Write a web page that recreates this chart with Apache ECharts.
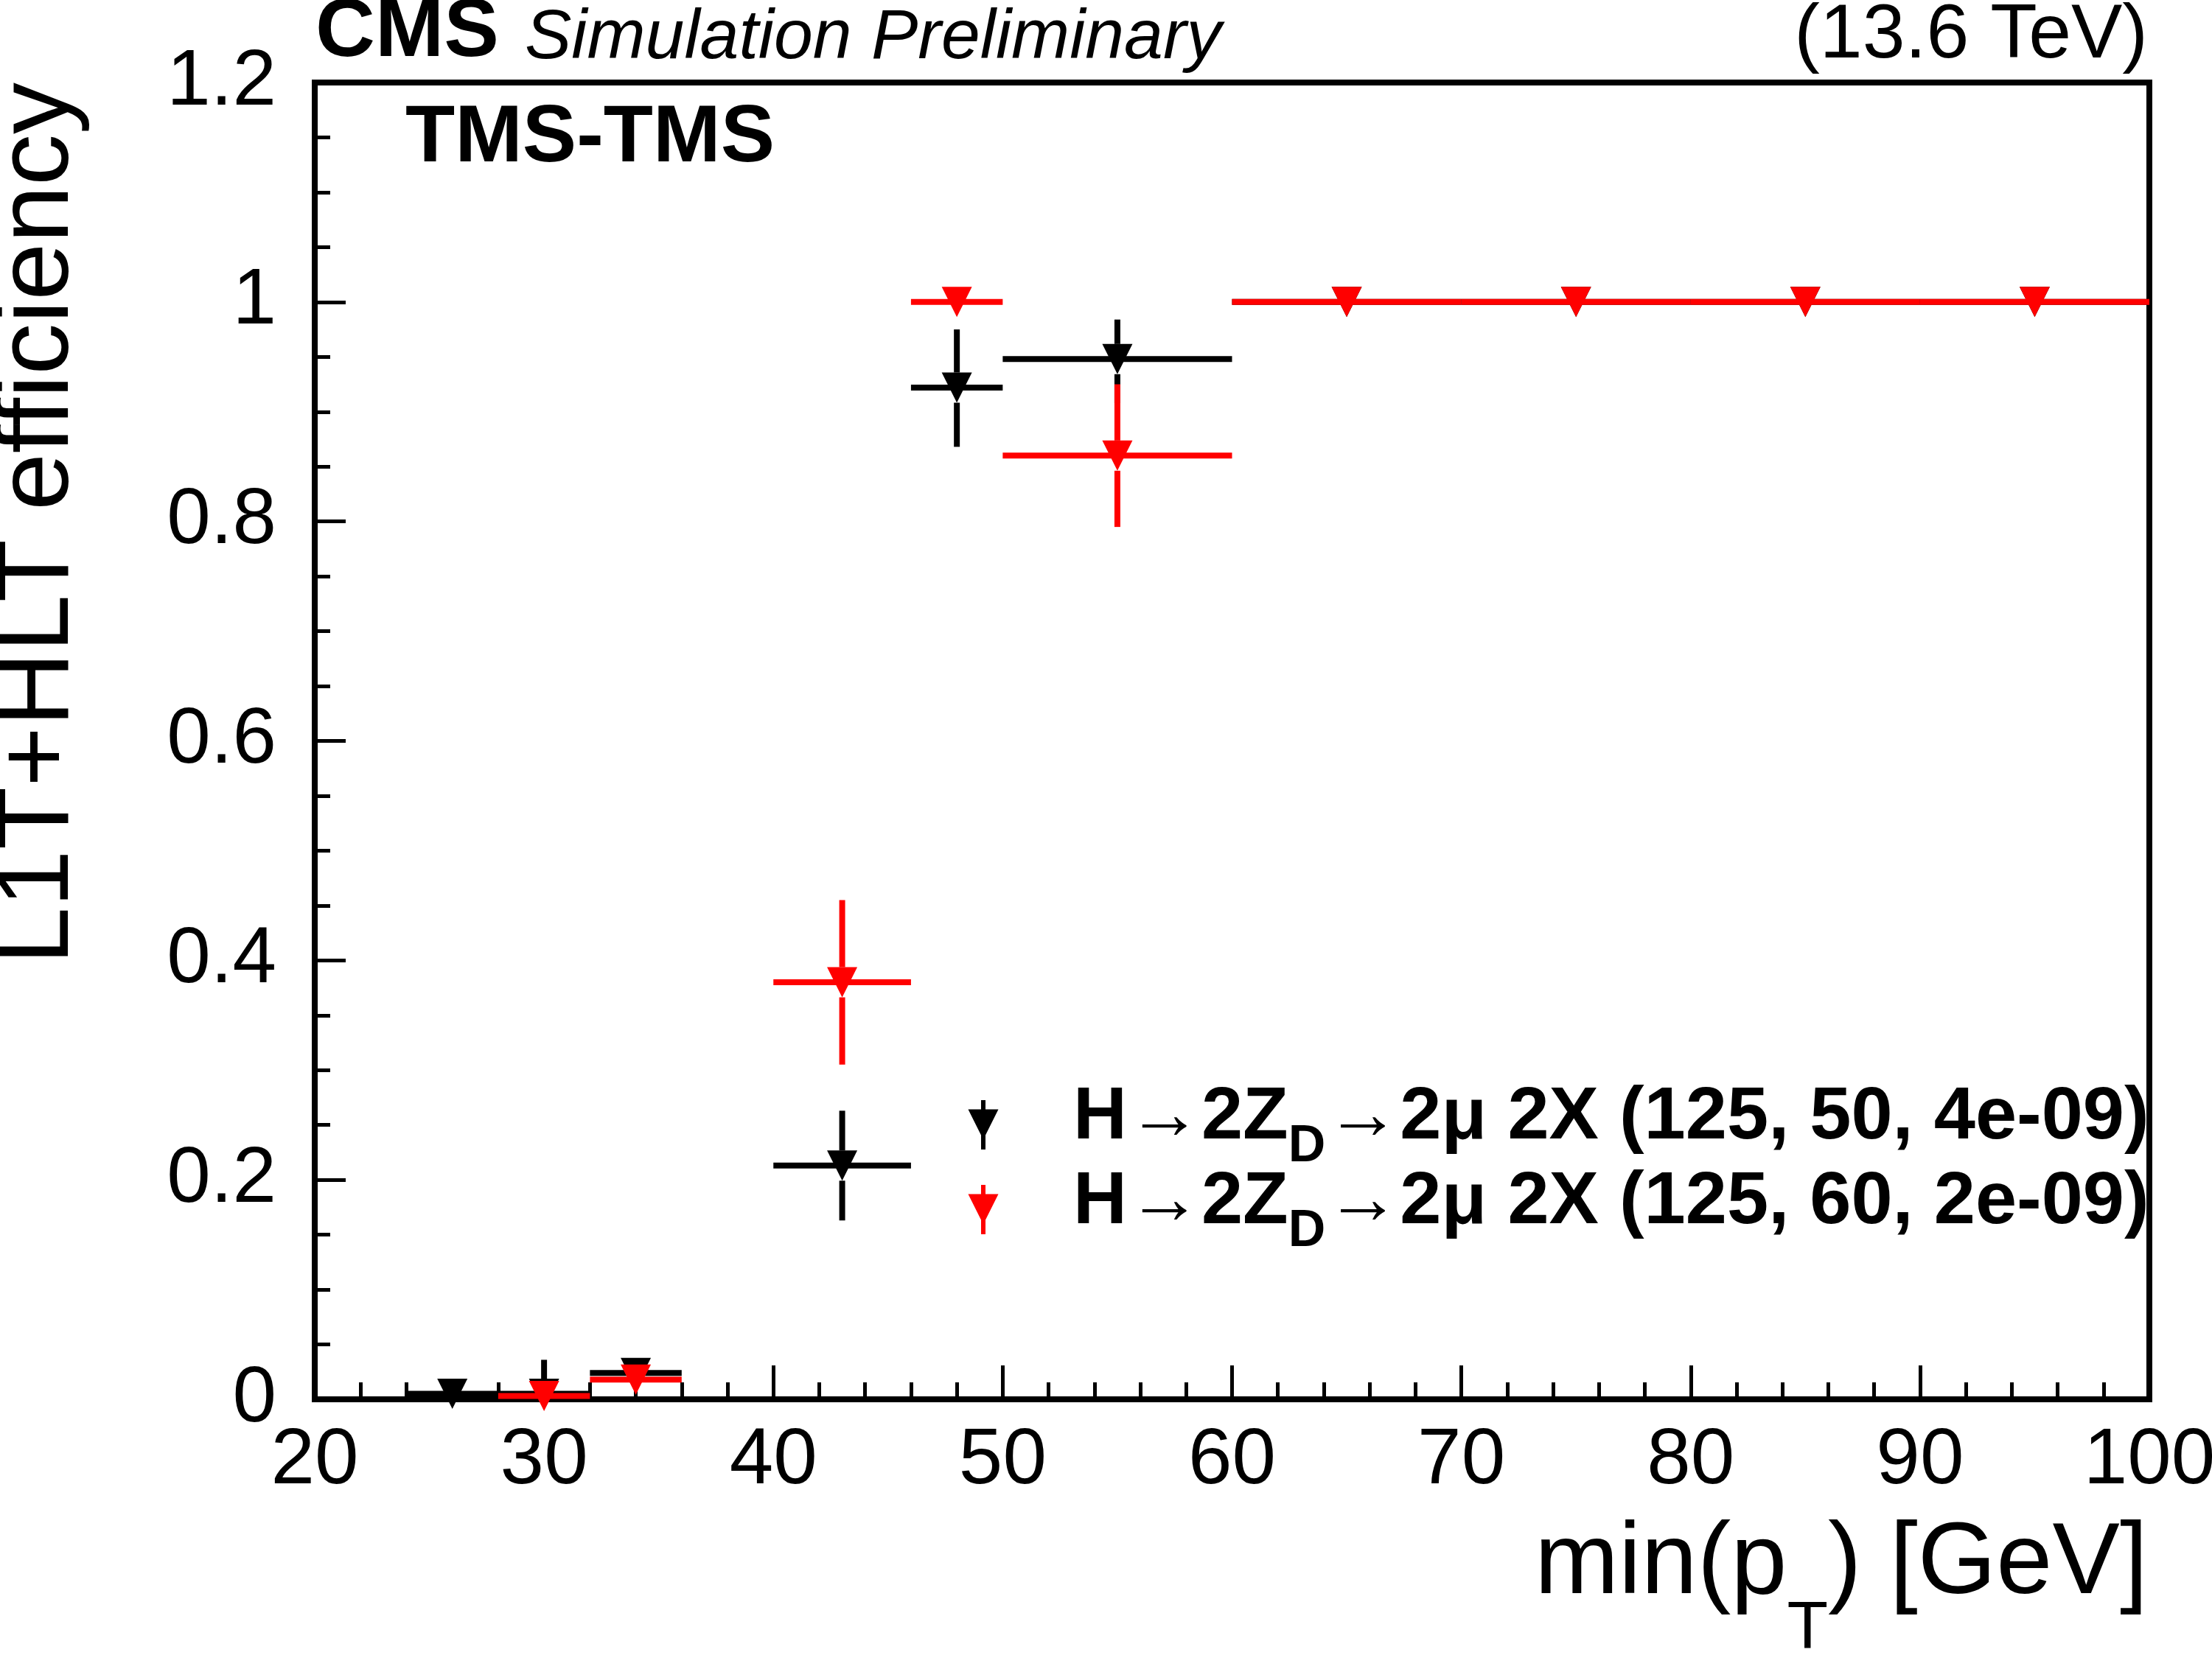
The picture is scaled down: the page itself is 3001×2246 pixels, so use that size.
<!DOCTYPE html>
<html><head><meta charset="utf-8">
<script src="https://cdn.jsdelivr.net/npm/echarts@6/dist/echarts.min.js"></script>
<style>html,body{margin:0;padding:0;background:#fff}#c{width:3001px;height:2246px}</style>
</head><body><div id="c"></div>
<script>
// ---- data ----
const binLow    = [24, 28, 32, 40, 46, 50, 60, 70, 80, 90];
const binHigh   = [28, 32, 36, 46, 50, 60, 70, 80, 90, 100];
const binCenter = [26, 30, 34, 43, 48, 55, 65, 75, 85, 95];

const effA   = [0.005, 0.005, 0.024, 0.213, 0.922, 0.948, 1, 1, 1, 1];
const errUpA = [0.006, 0.031, 0.008, 0.050, 0.053, 0.036, 0, 0, 0, 0];
const errDnA = [0.005, 0.005, 0.008, 0.050, 0.054, 0.040, 0, 0, 0, 0];

const effB   = [null, 0.003, 0.018, 0.380, 1.000, 0.860, 1, 1, 1, 1];
const errUpB = [null, 0.012, 0.008, 0.075, 0.000, 0.065, 0, 0, 0, 0];
const errDnB = [null, 0.003, 0.008, 0.075, 0.000, 0.065, 0, 0, 0, 0];

const seriesColors = ['#000000', '#ff0000'];
const legendParts = [
  ['H\u21922Z', 'D', '\u21922\u03bc 2X (125, 50, 4e-09)'],
  ['H\u21922Z', 'D', '\u21922\u03bc 2X (125, 60, 2e-09)']
];
const xRange = [20, 100, 10];
const yRange = [0, 1.2, 0.2];
const xTitle = ['min(p', 'T', ') [GeV]'];
const yTitle = 'L1T+HLT efficiency';

// ---- build ----
const FONT = '"Liberation Sans", Arial, Helvetica, sans-serif';
const MARK = 41, LW = 8;
function build(eff, up, dn) {
  const out = [];
  for (let i = 0; i < eff.length; i++) {
    if (eff[i] === null) continue;
    out.push([binCenter[i], eff[i], binLow[i], binHigh[i], eff[i] - dn[i], eff[i] + up[i]]);
  }
  return out;
}
function renderItem(color) {
  return function (params, api) {
    const x = api.value(0), y = api.value(1);
    const p = api.coord([x, y]);
    const pl = api.coord([api.value(2), y]);
    const ph = api.coord([api.value(3), y]);
    const plo = api.coord([x, api.value(4)]);
    const phi = api.coord([x, api.value(5)]);
    const h = MARK / 2;
    const st = {stroke: color, lineWidth: LW, lineCap: 'butt'};
    const ch = [];
    ch.push({type: 'line', shape: {x1: pl[0], y1: p[1], x2: ph[0], y2: p[1]}, style: st});
    if (phi[1] < p[1] - h) ch.push({type: 'line', shape: {x1: p[0], y1: phi[1], x2: p[0], y2: p[1] - h}, style: st});
    if (plo[1] > p[1] + h) ch.push({type: 'line', shape: {x1: p[0], y1: p[1] + h, x2: p[0], y2: plo[1]}, style: st});
    ch.push({type: 'polygon', shape: {points: [[p[0] - h, p[1] - h], [p[0] + h, p[1] - h], [p[0], p[1] + h]]}, style: {fill: color}});
    return {type: 'group', children: ch};
  };
}

const ctx = document.createElement('canvas').getContext('2d');
function tw(text, font) { ctx.font = font; return ctx.measureText(text).width; }

const graphics = [];
function txt(x, y, text, size, opts) {
  opts = opts || {};
  graphics.push({
    type: 'text', x: x, y: y, rotation: opts.rotation || 0, z: 100,
    style: {text: text, fill: opts.color || '#000', fontSize: size, fontFamily: FONT,
      fontWeight: opts.weight || 'normal', fontStyle: opts.style || 'normal',
      align: opts.align || 'left', verticalAlign: 'middle',
      textAlign: opts.align || 'left', textVerticalAlign: 'middle'}
  });
}
// header
txt(428, 84 - 0.35 * 112, 'CMS', 112, {weight: 'bold'});
txt(712, 86 - 0.35 * 95, 'Simulation Preliminary', 95, {style: 'italic'});
txt(2914, 86 - 0.35 * 104, '(13.6 TeV)', 104, {align: 'right'});
txt(550, 227 - 0.35 * 110, 'TMS-TMS', 110, {weight: 'bold'});
// y title
txt(53, 112, yTitle, 140, {align: 'right', rotation: Math.PI / 2});
// x title
(function () {
  const f1 = '137px ' + FONT, f2 = '91px ' + FONT;
  const w3 = tw(xTitle[2], f1), w2 = tw(xTitle[1], f2);
  txt(2914, 2172 - 0.35 * 137, xTitle[2], 137, {align: 'right'});
  txt(2914 - w3, 2212, xTitle[1], 91, {align: 'right'});
  txt(2914 - w3 - w2, 2172 - 0.35 * 137, xTitle[0], 137, {align: 'right'});
})();
// legend
const legBase = [1553, 1668];
legendParts.forEach(function (parts, k) {
  const base = legBase[k];
  const cy = base - 27;
  const cx = 1334, h = MARK / 2;
  graphics.push({type: 'line', z: 100, shape: {x1: cx, y1: cy - 33, x2: cx, y2: cy + 34}, style: {stroke: seriesColors[k], lineWidth: 6}});
  graphics.push({type: 'polygon', z: 101, shape: {points: [[cx - h, cy - h], [cx + h, cy - h], [cx, cy + h]]}, style: {fill: seriesColors[k]}});
  const fMain = 'bold 101px ' + FONT, fSub = 'bold 70px ' + FONT;
  let x = 1456;
  txt(x, base - 0.35 * 101, parts[0], 101, {weight: 'bold'});
  x += tw(parts[0], fMain);
  txt(x, base + 4, parts[1], 70, {weight: 'bold'});
  x += tw(parts[1], fSub);
  txt(x, base - 0.35 * 101, parts[2], 101, {weight: 'bold'});
});

const tickStyle = {color: '#000', width: 5};
const option = {
  animation: false,
  backgroundColor: '#fff',
  grid: {left: 427, right: 85, top: 112, bottom: 347, outerBoundsMode: 'none', containLabel: false,
         show: true, borderColor: '#000', borderWidth: 8, backgroundColor: 'transparent'},
  xAxis: {
    type: 'value', min: xRange[0], max: xRange[1], interval: xRange[2],
    axisLine: {show: true, onZero: false, lineStyle: {color: '#000', width: 8}},
    axisTick: {show: true, inside: true, length: 46, lineStyle: tickStyle},
    minorTick: {show: true, splitNumber: 5, length: 23, lineStyle: tickStyle},
    splitLine: {show: false}, minorSplitLine: {show: false},
    axisLabel: {fontSize: 107, fontFamily: FONT, color: '#000', margin: 31}
  },
  yAxis: {
    type: 'value', min: yRange[0], max: yRange[1], interval: yRange[2],
    axisLine: {show: true, onZero: false, lineStyle: {color: '#000', width: 8}},
    axisTick: {show: true, inside: true, length: 42, lineStyle: tickStyle},
    minorTick: {show: true, splitNumber: 4, length: 21, lineStyle: tickStyle},
    splitLine: {show: false}, minorSplitLine: {show: false},
    axisLabel: {fontSize: 107, fontFamily: FONT, color: '#000', margin: 52}
  },
  series: [
    {type: 'custom', name: legendParts[0].join(''), clip: false, z: 2,
     renderItem: renderItem(seriesColors[0]), encode: {x: [0, 2, 3], y: [1, 4, 5]},
     data: build(effA, errUpA, errDnA)},
    {type: 'custom', name: legendParts[1].join(''), clip: false, z: 3,
     renderItem: renderItem(seriesColors[1]), encode: {x: [0, 2, 3], y: [1, 4, 5]},
     data: build(effB, errUpB, errDnB)}
  ],
  graphic: graphics
};
const chart = echarts.init(document.getElementById('c'), null, {renderer: 'canvas'});
chart.setOption(option);
</script>
</body></html>
